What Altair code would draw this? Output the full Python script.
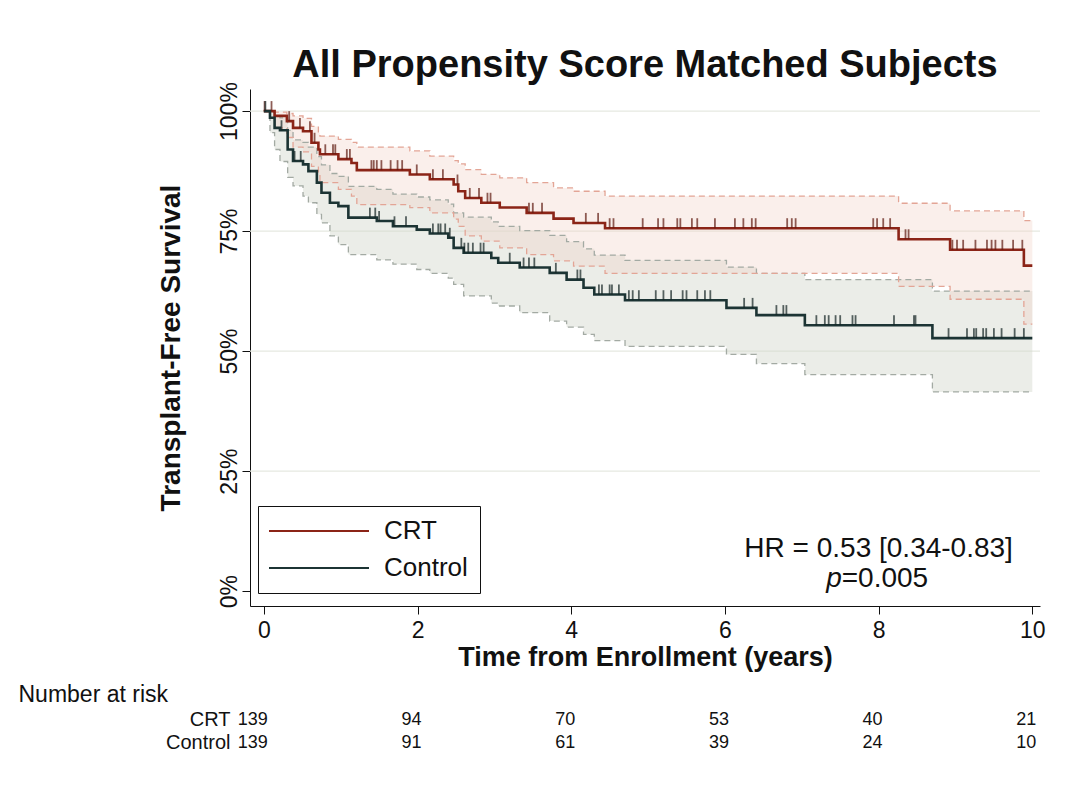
import altair as alt
import pandas as pd

GROUPS = ["CRT", "Control"]
LINE_COLORS = ["#8b2417", "#1c3434"]
TICK_COLORS = {"CRT": "#5e1a10", "Control": "#142424"}
BAND_FILL = {"CRT": "#f2d3c8", "Control": "#d3d8cc"}
BAND_OPACITY = {"CRT": 0.36, "Control": 0.45}
BAND_EDGE = {"CRT": "#e3a596", "Control": "#a3aaa3"}
END_T = 10.0

# CRT step function (time, survival, lower CI, upper CI)
CRT_T = [0, 0.14, 0.30, 0.38, 0.51, 0.62, 0.71, 0.73, 0.97, 1.14, 1.21, 1.90, 2.16, 2.47,
         2.53, 2.62, 2.83, 3.07, 3.42, 3.77, 4.03, 4.44, 8.26, 8.93, 9.89]
CRT_S = [1.0, 0.99, 0.979, 0.965, 0.958, 0.934, 0.92, 0.91, 0.90, 0.892, 0.877, 0.868, 0.858,
         0.847, 0.833, 0.819, 0.809, 0.799, 0.788, 0.776, 0.767, 0.756, 0.733, 0.711, 0.678]
CRT_UP = [1.0, 0.998, 0.995, 0.99, 0.985, 0.968, 0.955, 0.948, 0.941, 0.935, 0.925, 0.917,
          0.906, 0.897, 0.89, 0.878, 0.868, 0.861, 0.851, 0.840, 0.833, 0.823, 0.808, 0.792, 0.772]
CRT_LO = [1.0, 0.965, 0.945, 0.925, 0.915, 0.885, 0.867, 0.851, 0.837, 0.823, 0.805, 0.799,
          0.788, 0.775, 0.76, 0.74, 0.729, 0.715, 0.701, 0.688, 0.677, 0.662, 0.635, 0.608, 0.556]

# Control step function
CTL_T = [0, 0.08, 0.14, 0.21, 0.31, 0.38, 0.51, 0.58, 0.69, 0.75, 0.86, 0.97, 1.10, 1.47, 1.68,
         1.99, 2.16, 2.40, 2.47, 2.60, 2.96, 3.05, 3.33, 3.72, 3.94, 4.16, 4.30, 4.70, 6.02, 6.41,
         7.04, 8.70]
CTL_S = [1.0, 0.986, 0.965, 0.96, 0.92, 0.896, 0.889, 0.875, 0.851, 0.83, 0.809, 0.802, 0.778,
         0.771, 0.76, 0.753, 0.745, 0.736, 0.715, 0.705, 0.694, 0.684, 0.674, 0.663, 0.649, 0.632,
         0.618, 0.606, 0.590, 0.575, 0.554, 0.527]
CTL_LO = [1.0, 0.955, 0.92, 0.895, 0.862, 0.844, 0.823, 0.809, 0.785, 0.767, 0.740, 0.722, 0.701,
          0.690, 0.681, 0.670, 0.662, 0.652, 0.639, 0.615, 0.60, 0.594, 0.58, 0.5625, 0.55, 0.535,
          0.522, 0.51, 0.493, 0.474, 0.451, 0.415]
CTL_UP = [1.0, 0.998, 0.99, 0.986, 0.96, 0.94, 0.935, 0.925, 0.905, 0.888, 0.87, 0.864, 0.843,
          0.837, 0.827, 0.821, 0.815, 0.806, 0.788, 0.779, 0.769, 0.760, 0.751, 0.741, 0.728, 0.713,
          0.700, 0.689, 0.675, 0.662, 0.649, 0.625]

# censoring marks (years)
CRT_CENS = [0.01, 0.1, 0.33, 0.47, 0.6, 0.66, 0.8, 0.9, 0.93, 1.08, 1.12, 1.4, 1.43, 1.47, 1.53,
            1.65, 1.74, 1.8, 1.99, 2.2, 2.33, 2.52, 2.68, 2.8, 2.91, 2.95, 3.45, 3.5, 3.62, 4.19,
            4.35, 4.5, 4.55, 4.93, 5.13, 5.2, 5.38, 5.42, 5.57, 5.64, 5.87, 6.13, 6.24, 6.35, 6.4,
            6.81, 6.87, 6.92, 7.93, 7.98, 8.06, 8.15, 8.35, 8.39, 8.96, 9.02, 9.1, 9.26, 9.41,
            9.47, 9.52, 9.61, 9.75, 9.87]
CTL_CENS = [0.02, 0.23, 0.4, 0.48, 1.38, 1.45, 1.5, 1.7, 1.85, 2.2, 2.27, 2.3, 2.36, 2.42, 2.57,
            2.61, 2.66, 2.72, 2.82, 2.86, 3.2, 3.38, 3.45, 3.52, 3.8, 4.08, 4.12, 4.36, 4.4, 4.5,
            4.53, 4.62, 4.75, 4.8, 4.88, 5.1, 5.2, 5.3, 5.45, 5.5, 5.64, 5.74, 5.81, 6.25, 6.36,
            6.67, 6.76, 6.8, 7.19, 7.3, 7.35, 7.44, 7.5, 7.66, 7.7, 8.2, 8.46, 8.48, 8.91, 9.15,
            9.24, 9.27, 9.36, 9.4, 9.5, 9.6, 9.77, 9.89]

RISK_T = [0, 2, 4, 6, 8, 10]
CRT_RISK = [139, 94, 70, 53, 40, 21]
CTL_RISK = [139, 91, 61, 39, 24, 10]

GRID_VALUES = [0.25, 0.5, 0.75, 1.0]
X_TICKS = [0, 2, 4, 6, 8, 10]
Y_TICKS = [0, 0.25, 0.5, 0.75, 1.0]

HR_TEXT = "HR = 0.53 [0.34-0.83]"
P_LABEL = "p"
P_TEXT = "=0.005"

FONT = "Liberation Sans"

series = {
    "CRT": (CRT_T, CRT_S, CRT_LO, CRT_UP, CRT_CENS),
    "Control": (CTL_T, CTL_S, CTL_LO, CTL_UP, CTL_CENS),
}

rows, cens_rows = [], []
for g, (T, S, LO, UP, C) in series.items():
    for t, s, lo, up in zip(T + [END_T], S + [S[-1]], LO + [LO[-1]], UP + [UP[-1]]):
        rows.append({"group": g, "t": t, "s": s, "lo": lo, "up": up})
    for c in C:
        sval = [s for t, s in zip(T, S) if t <= c][-1]
        cens_rows.append({"group": g, "t": c, "s": sval})
df = pd.DataFrame(rows)
cdf = pd.DataFrame(cens_rows)

xs = alt.Scale(domain=[-0.18, 10.1], nice=False, zero=False)
ys = alt.Scale(domain=[-0.031, 1.046], nice=False, zero=False)

xaxis = alt.Axis(values=X_TICKS, format="d", title="Time from Enrollment (years)",
                 labelFontSize=23, titleFontSize=27, titleFontWeight="bold", tickSize=8,
                 labelPadding=5, titlePadding=2, grid=False, labelFont=FONT, titleFont=FONT,
                 domainColor="#111111", tickColor="#111111", labelColor="#111111",
                 titleColor="#111111", labelFlush=False)
yaxis = alt.Axis(values=Y_TICKS, format=".0%", title="Transplant-Free Survival",
                 labelAngle=270, labelAlign="center", labelBaseline="bottom",
                 labelFontSize=23, titleFontSize=28, titleFontWeight="bold", tickSize=8,
                 labelPadding=1, titlePadding=33, grid=False, labelFont=FONT, titleFont=FONT,
                 domainColor="#111111", tickColor="#111111", labelColor="#111111",
                 titleColor="#111111")


def X(field):
    return alt.X(field, type="quantitative", scale=xs, axis=xaxis)


def Y(field):
    return alt.Y(field, type="quantitative", scale=ys, axis=yaxis)


base = alt.Chart(df)
layers = []

grid = alt.Chart(pd.DataFrame({"v": GRID_VALUES})).mark_rule(
    color="#e6e9e1", strokeWidth=1.2).encode(y=Y("v"))
layers.append(grid)

for g in ["Control", "CRT"]:
    sub = base.transform_filter(alt.datum.group == g)
    layers.append(sub.mark_area(interpolate="step-after", opacity=BAND_OPACITY[g],
                                color=BAND_FILL[g]).encode(x=X("t"), y=Y("lo"), y2="up"))
for g in ["Control", "CRT"]:
    sub = base.transform_filter(alt.datum.group == g)
    for f in ["lo", "up"]:
        layers.append(sub.mark_line(interpolate="step-after", strokeDash=[6, 4],
                                    strokeWidth=1.3, color=BAND_EDGE[g])
                      .encode(x=X("t"), y=Y(f)))

curves = base.mark_line(interpolate="step-after", strokeWidth=2.6).encode(
    x=X("t"), y=Y("s"),
    color=alt.Color("group:N", scale=alt.Scale(domain=GROUPS, range=LINE_COLORS),
                    legend=alt.Legend(title=None, orient="none", legendX=8, legendY=417,
                                      symbolType="M-5,0H5", symbolSize=400,
                                      symbolOffset=36, symbolStrokeWidth=1.8,
                                      labelFontSize=26, labelFont=FONT,
                                      labelColor="#111111", labelOffset=52, rowPadding=11,
                                      padding=12, strokeColor="#111111", fillColor="white",
                                      labelLimit=300)),
    detail="group:N",
)
layers.append(curves)

for g in GROUPS:
    layers.append(alt.Chart(cdf).transform_filter(alt.datum.group == g)
                  .mark_tick(orient="vertical", size=10, thickness=1.8, yOffset=-5,
                             color=TICK_COLORS[g])
                  .encode(x=X("t"), y=Y("s")))

ann = pd.DataFrame([{"t": 8.0, "y": 0.088, "txt": HR_TEXT}])
layers.append(alt.Chart(ann).mark_text(fontSize=28, font=FONT, color="#111111",
                                       align="center", baseline="middle")
              .encode(x=X("t"), y=Y("y"), text="txt:N"))
pann = pd.DataFrame([{"t": 7.52, "y": 0.025, "txt": P_LABEL}])
layers.append(alt.Chart(pann).mark_text(fontSize=28, font=FONT, fontStyle="italic",
                                        color="#111111", align="right", baseline="middle")
              .encode(x=X("t"), y=Y("y"), text="txt:N"))
p2 = pd.DataFrame([{"t": 7.52, "y": 0.025, "txt": P_TEXT}])
layers.append(alt.Chart(p2).mark_text(fontSize=28, font=FONT, color="#111111",
                                      align="left", baseline="middle")
              .encode(x=X("t"), y=Y("y"), text="txt:N"))

top = alt.layer(*layers).properties(
    width=790, height=517,
    title=alt.TitleParams("All Propensity Score Matched Subjects", fontSize=38, font=FONT,
                          fontWeight="bold", color="#111111", offset=-3, anchor="middle"),
)

risk_rows = []
for g, vals in zip(GROUPS, [CRT_RISK, CTL_RISK]):
    for t, n in zip(RISK_T, vals):
        risk_rows.append({"group": g, "t": t, "n": n})
rdf = pd.DataFrame(risk_rows)

risk = alt.Chart(rdf).mark_text(align="right", dx=4, fontSize=18, font=FONT,
                                color="#111111", baseline="middle").encode(
    x=alt.X("t:Q", scale=xs, axis=None),
    y=alt.Y("group:N", sort=GROUPS,
            axis=alt.Axis(title="Number at risk", titleAngle=0, titleX=-232, titleY=-14,
                          titleAlign="left", titleBaseline="middle", titleFontWeight="normal",
                          titleFontSize=23, titleFont=FONT, titleColor="#111111",
                          labelFontSize=20, labelFont=FONT, labelColor="#111111",
                          domain=False, ticks=False, labelPadding=20, labelAlign="right")),
    text="n:Q",
).properties(width=790, height=46)

chart = alt.vconcat(top, risk, spacing=13).properties(
    padding={"left": 10, "top": 38, "right": 5, "bottom": 5}
).configure(font=FONT).configure_view(strokeWidth=0, stroke="transparent")

chart.save("out.html", embed_options={"renderer": "svg", "actions": False})
